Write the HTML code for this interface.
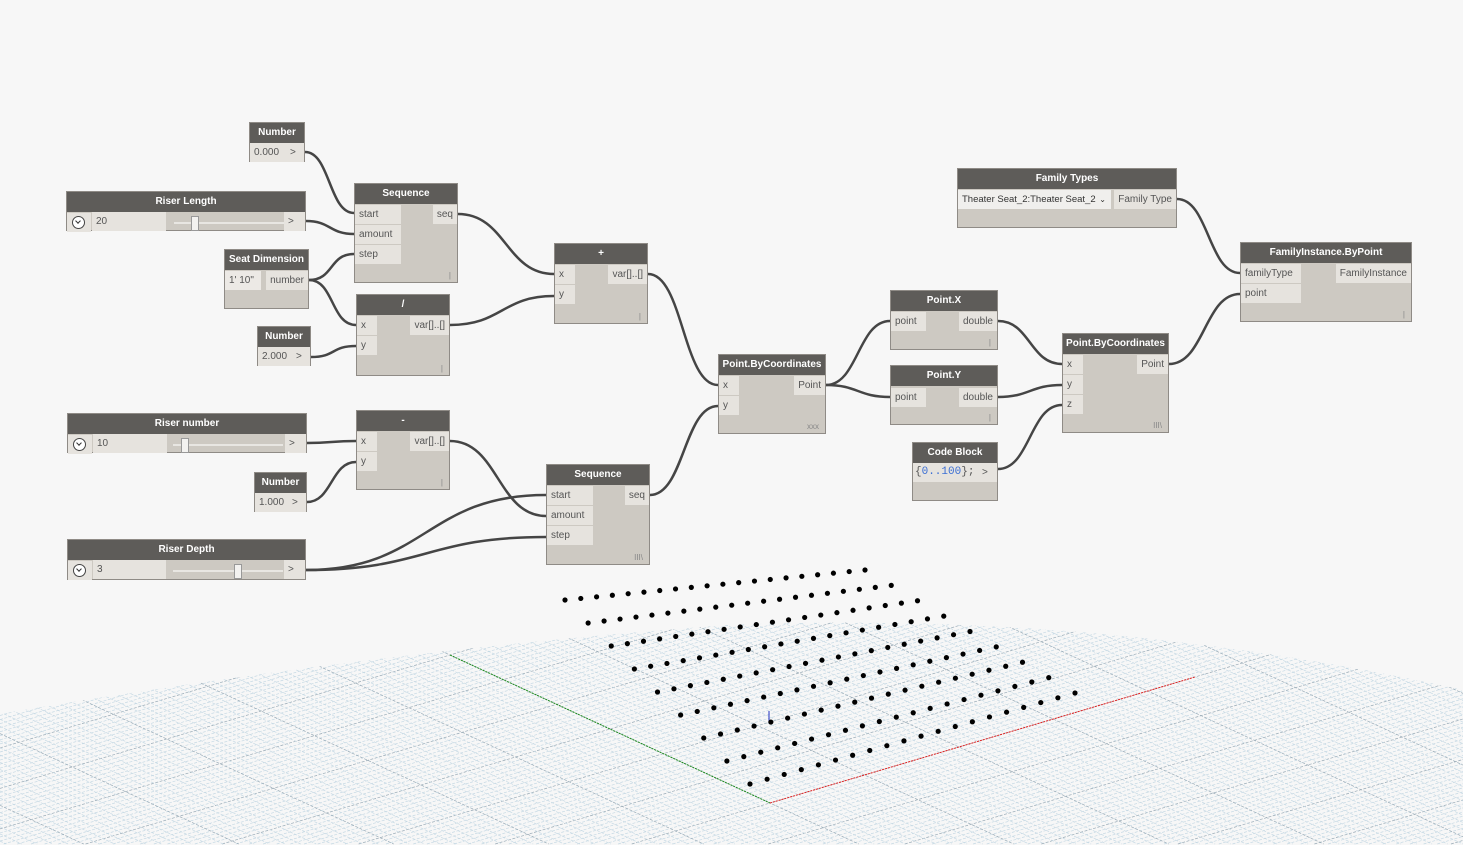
<!DOCTYPE html>
<html style="overflow:hidden;width:1463px;height:845px"><head><meta charset="utf-8"><style>
html,body{margin:0;padding:0}
body{width:1463px;height:845px;background:#f7f7f7;position:relative;overflow:hidden;font-family:"Liberation Sans",sans-serif}
svg{position:absolute;left:0;top:0;display:block}
.n{position:absolute;background:#cdc9c2;border:1px solid #8f8b86;box-sizing:border-box}
.h{height:20px;background:#5e5c59;color:#fff;font-weight:bold;font-size:10px;text-align:center;line-height:20px;white-space:nowrap;overflow:hidden}
.p,.o,.v{position:absolute;height:19px;background:#e6e3de;font-size:10px;color:#555;line-height:19px;padding:0 4px;box-sizing:border-box;white-space:nowrap;overflow:hidden}
.o{right:0}
.f{position:absolute;right:6px;bottom:2px;font-size:8px;color:#888}
.tg{position:absolute;left:0;top:21px;width:24px;height:19px;background:#e6e3de}
.tg:after{content:"";position:absolute;left:5px;top:3px;width:11px;height:11px;border:1.5px solid #444;border-radius:50%;background:#fff}
.tg:before{content:"";position:absolute;left:9px;top:6px;width:3px;height:3px;border-right:1.5px solid #333;border-bottom:1.5px solid #333;transform:rotate(45deg);z-index:2}
.tr{position:absolute;height:2px;background:#e8e6e2;top:30px}
.th{position:absolute;width:6px;height:13px;top:24px;background:#f3f2f0;border:1px solid #999}
</style></head><body>
<svg width="1463" height="845" viewBox="0 0 1463 845" id="g" style="overflow:hidden">
<defs><clipPath id="cp"><path d="M0 714 Q 380 650 730 625 Q 1100 610 1463 690 L1463 845 L0 845Z"/></clipPath></defs>
<g id="grid" clip-path="url(#cp)" stroke-width="0.7" stroke-dasharray="3 1.5"></g>
<line x1="450" y1="655" x2="770" y2="803" stroke="#1a8a1a" stroke-width="1" stroke-dasharray="2 1"/>
<line x1="770" y1="803" x2="1195" y2="677" stroke="#e02020" stroke-width="1" stroke-dasharray="2 1"/>
<line x1="769" y1="711" x2="769" y2="722" stroke="#2030c0" stroke-width="1"/>
<g id="dots" fill="#000"></g>
<g id="w" fill="none" stroke="#454545" stroke-width="2.5"></g>
</svg>
<script>
var NS="http://www.w3.org/2000/svg";
function el(p,t,a){var e=document.createElementNS(NS,t);for(var k in a)e.setAttribute(k,a[k]);p.appendChild(e);}
function clip(x1,y1,x2,y2){var t0=0,t1=1,dx=x2-x1,dy=y2-y1;var p=[-dx,dx,-dy,dy],q=[x1,1463-x1,y1-600,844-y1];
 for(var i=0;i<4;i++){if(p[i]==0){if(q[i]<0)return null;}else{var r=q[i]/p[i];if(p[i]<0){if(r>t1)return null;if(r>t0)t0=r;}else{if(r<t0)return null;if(r<t1)t1=r;}}}
 return [x1+t0*dx,y1+t0*dy,x1+t1*dx,y1+t1*dy];}
var g=document.getElementById("grid");
function gl(a,b,c,d,col){var r=clip(a,b,c,d);if(r)el(g,"line",{x1:r[0],y1:r[1],x2:r[2],y2:r[3],stroke:col});}
for(var i=-120;i<=160;i++){var ox=770+i*(-320/60),oy=803+i*(-148/60);
 gl(ox-2000*425/443,oy+2000*126/443,ox+2000*425/443,oy-2000*126/443,(i%10==0?"#98aab6":"#c6d9e4"));}
for(var j=-160;j<=160;j++){var ox=770+j*(425/45),oy=803+j*(-126/45);
 gl(ox-2000*320/352,oy-2000*148/352,ox+2000*320/352,oy+2000*148/352,(j%10==0?"#98aab6":"#c6d9e4"));}
var d=document.getElementById("dots");
for(var r=0;r<9;r++){var t=r/8;var lx=565+t*(750-565),ly=600+t*(784-600),rx=865+t*(1075-865),ry=570+t*(693-570);
 for(var c=0;c<20;c++){var s=c/19;el(d,"circle",{cx:lx+s*(rx-lx),cy:ly+s*(ry-ly),r:2.6});}}
var W=document.getElementById("w");
function wire(a,b,c,e){var m=(c-a)/2;if(m<25)m=25;el(W,"path",{d:"M"+a+" "+b+" C"+(a+m)+" "+b+" "+(c-m)+" "+e+" "+c+" "+e});}
[[305,152,354,213],[306,221,354,234],[309,280,354,254],[309,280,356,325],[311,357,356,346],[458,214,554,274],[450,325,554,296],[648,274,718,385],[650,495,718,406],[826,385,890,321],[826,385,890,397],[998,321,1062,364],[998,397,1062,385],[998,469,1062,405],[1177,199,1240,273],[1169,364,1240,294],[307,443,356,441],[307,502,356,462],[450,441,546,516],[306,570,546,495],[306,570,546,537]].forEach(function(x){wire(x[0],x[1],x[2],x[3]);});
</script>

<div class="n" style="left:249px;top:122px;width:56px;height:40px"><div class="h">Number</div><div class="v" style="left:0;top:20px;width:36px">0.000</div><div class="o" style="top:20px;width:18px">&gt;</div></div>

<div class="n" style="left:66px;top:191px;width:240px;height:40px"><div class="h">Riser Length</div><div class="tg"></div><div class="v" style="left:25px;top:20px;width:74px">20</div><div class="tr" style="left:107px;width:110px"></div><div class="th" style="left:124px"></div><div class="o" style="top:20px;width:21px">&gt;</div></div>

<div class="n" style="left:354px;top:183px;width:104px;height:100px"><div class="h">Sequence</div><div class="p" style="left:0;top:21px;width:46px">start</div><div class="p" style="left:0;top:41px;width:46px">amount</div><div class="p" style="left:0;top:61px;width:46px">step</div><div class="o" style="top:21px">seq</div><div class="f">|</div></div>

<div class="n" style="left:224px;top:249px;width:85px;height:60px"><div class="h">Seat Dimension</div><div class="v" style="left:0;top:21px;width:36px;background:#ece9e5">1' 10"</div><div class="o" style="top:21px">number</div></div>

<div class="n" style="left:257px;top:326px;width:54px;height:40px"><div class="h">Number</div><div class="v" style="left:0;top:20px;width:34px">2.000</div><div class="o" style="top:20px;width:18px">&gt;</div></div>

<div class="n" style="left:356px;top:294px;width:94px;height:82px"><div class="h">/</div><div class="p" style="left:0;top:21px;width:20px">x</div><div class="p" style="left:0;top:41px;width:20px">y</div><div class="o" style="top:21px">var[]..[]</div><div class="f">|</div></div>

<div class="n" style="left:554px;top:243px;width:94px;height:81px"><div class="h">+</div><div class="p" style="left:0;top:21px;width:20px">x</div><div class="p" style="left:0;top:41px;width:20px">y</div><div class="o" style="top:21px">var[]..[]</div><div class="f">|</div></div>

<div class="n" style="left:718px;top:354px;width:108px;height:80px"><div class="h">Point.ByCoordinates</div><div class="p" style="left:0;top:21px;width:20px">x</div><div class="p" style="left:0;top:41px;width:20px">y</div><div class="o" style="top:21px">Point</div><div class="f">xxx</div></div>

<div class="n" style="left:890px;top:290px;width:108px;height:60px"><div class="h">Point.X</div><div class="p" style="left:0;top:21px;width:35px">point</div><div class="o" style="top:21px">double</div><div class="f">|</div></div>

<div class="n" style="left:890px;top:365px;width:108px;height:60px"><div class="h">Point.Y</div><div class="p" style="left:0;top:22px;width:35px">point</div><div class="o" style="top:22px">double</div><div class="f">|</div></div>

<div class="n" style="left:912px;top:442px;width:86px;height:59px"><div class="h">Code Block</div><div class="v" style="left:0;top:20px;width:65px;font-family:'Liberation Mono',monospace;font-size:11px;color:#3b6fd4;padding-left:2px"><span style="color:#555">{</span>0..100<span style="color:#555">};</span></div><div class="o" style="top:20px;width:19px">&gt;</div></div>

<div class="n" style="left:1062px;top:333px;width:107px;height:100px"><div class="h">Point.ByCoordinates</div><div class="p" style="left:0;top:21px;width:20px">x</div><div class="p" style="left:0;top:41px;width:20px">y</div><div class="p" style="left:0;top:61px;width:20px">z</div><div class="o" style="top:21px">Point</div><div class="f">III\</div></div>

<div class="n" style="left:957px;top:168px;width:220px;height:60px"><div class="h">Family Types</div><div class="v" style="left:0;top:21px;width:153px;background:#f0efed;color:#333;font-size:9.5px">Theater Seat_2:Theater Seat_2 <span style="position:absolute;right:5px;font-size:8px">&#8964;</span></div><div class="o" style="top:21px">Family Type</div></div>

<div class="n" style="left:1240px;top:242px;width:172px;height:80px"><div class="h">FamilyInstance.ByPoint</div><div class="p" style="left:0;top:21px;width:60px">familyType</div><div class="p" style="left:0;top:41px;width:60px">point</div><div class="o" style="top:21px">FamilyInstance</div><div class="f">|</div></div>

<div class="n" style="left:67px;top:413px;width:240px;height:40px"><div class="h">Riser number</div><div class="tg"></div><div class="v" style="left:25px;top:20px;width:74px">10</div><div class="tr" style="left:105px;width:110px"></div><div class="th" style="left:113px"></div><div class="o" style="top:20px;width:21px">&gt;</div></div>

<div class="n" style="left:254px;top:472px;width:53px;height:40px"><div class="h">Number</div><div class="v" style="left:0;top:20px;width:33px">1.000</div><div class="o" style="top:20px;width:18px">&gt;</div></div>

<div class="n" style="left:356px;top:410px;width:94px;height:80px"><div class="h">-</div><div class="p" style="left:0;top:21px;width:20px">x</div><div class="p" style="left:0;top:41px;width:20px">y</div><div class="o" style="top:21px">var[]..[]</div><div class="f">|</div></div>

<div class="n" style="left:546px;top:464px;width:104px;height:101px"><div class="h">Sequence</div><div class="p" style="left:0;top:21px;width:46px">start</div><div class="p" style="left:0;top:41px;width:46px">amount</div><div class="p" style="left:0;top:61px;width:46px">step</div><div class="o" style="top:21px">seq</div><div class="f">III\</div></div>

<div class="n" style="left:67px;top:539px;width:239px;height:41px"><div class="h">Riser Depth</div><div class="tg"></div><div class="v" style="left:25px;top:20px;width:73px">3</div><div class="tr" style="left:105px;width:110px"></div><div class="th" style="left:166px"></div><div class="o" style="top:20px;width:21px">&gt;</div></div>
</body></html>
